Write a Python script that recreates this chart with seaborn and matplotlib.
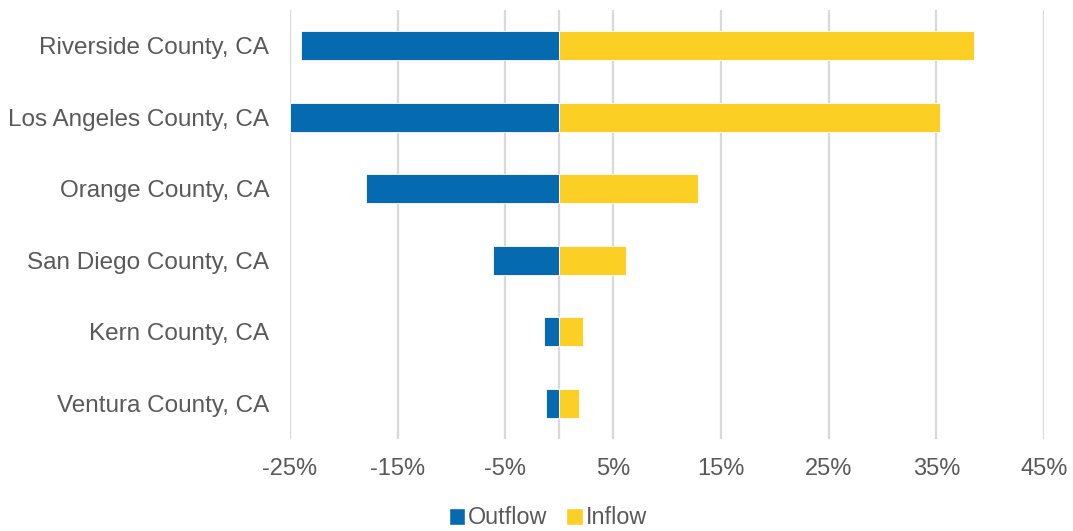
import matplotlib
matplotlib.use("Agg")
import matplotlib.pyplot as plt
from matplotlib.patches import Patch
import seaborn as sns
import pandas as pd

counties = ["Riverside County, CA", "Los Angeles County, CA", "Orange County, CA",
            "San Diego County, CA", "Kern County, CA", "Ventura County, CA"]
outflow = [-24.0, -25.0, -17.9, -6.2, -1.4, -1.2]
inflow = [38.5, 35.3, 12.9, 6.2, 2.2, 1.8]
tick_values = [-25, -15, -5, 5, 15, 25, 35, 45]
tick_labels = ["-25%", "-15%", "-5%", "5%", "15%", "25%", "35%", "45%"]

BLUE = "#066AB0"
YELLOW = "#FBCF24"
GRID = "#D9D9D9"
TEXT = "#595959"

sns.set_theme(style="white")
plt.rcParams["font.family"] = ["Liberation Sans", "DejaVu Sans"]

df = pd.DataFrame({"county": counties, "Outflow": outflow, "Inflow": inflow})

fig = plt.figure(figsize=(10.73, 5.31), dpi=100)
ax = fig.add_axes([290 / 1073, 1 - 439 / 531, (1044 - 290) / 1073, 429 / 531])

for x in tick_values:
    ax.axvline(x, color=GRID, lw=1.6, zorder=0)
ax.axvline(0, color=GRID, lw=1.6, zorder=0)

sns.barplot(data=df, x="Outflow", y="county", color=BLUE, width=0.4, ax=ax,
            edgecolor="white", linewidth=0.6, zorder=2, saturation=1)
sns.barplot(data=df, x="Inflow", y="county", color=YELLOW, width=0.4, ax=ax,
            edgecolor="white", linewidth=0.6, zorder=2, saturation=1)

ax.set_xlim(-25, 45)
ax.set_ylim(len(counties) - 0.5, -0.5)
ax.set_xticks(tick_values)
ax.set_xticklabels(tick_labels)
ax.set_xlabel("")
ax.set_ylabel("")
for s in ax.spines.values():
    s.set_visible(False)
ax.tick_params(axis="x", length=0, pad=14, labelsize=17, labelcolor=TEXT)
ax.tick_params(axis="y", length=0, pad=15, labelsize=17.5, labelcolor=TEXT)

handles = [Patch(facecolor=BLUE, label="Outflow"), Patch(facecolor=YELLOW, label="Inflow")]
fig.legend(handles=handles, loc="center", bbox_to_anchor=(548 / 1073, 1 - 518 / 531),
           ncol=2, frameon=False, fontsize=16.8, labelcolor=TEXT,
           handlelength=0.7, handleheight=0.7, handletextpad=0.15, columnspacing=0.8)

fig.savefig("out.png", dpi=100, facecolor="white")
